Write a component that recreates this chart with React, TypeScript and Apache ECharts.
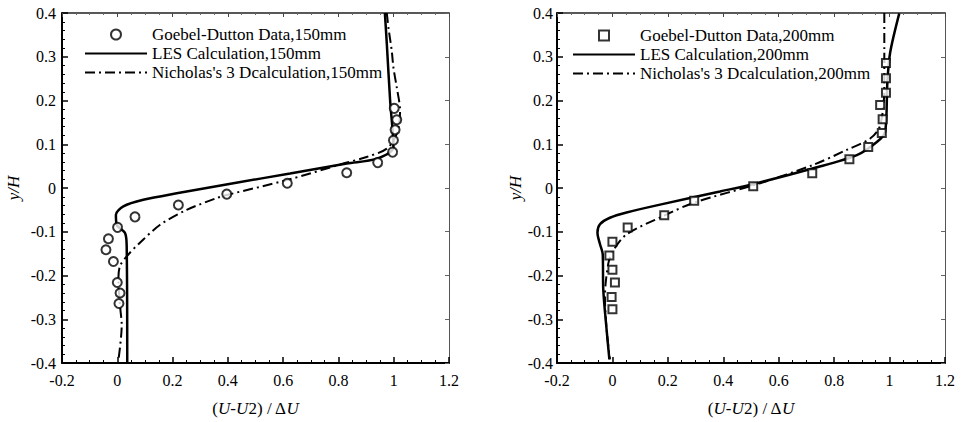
import React, { useEffect, useRef } from "react";
import * as echarts from "echarts";

// ---- 150 mm (left panel) ----
const dataX150 = [1.002, 1.011, 1.005, 0.999, 0.996, 0.942, 0.830, 0.615, 0.396, 0.221, 0.064, 0.001, -0.032, -0.041, -0.014, 0.0, 0.010, 0.006];
const dataY150 = [0.182, 0.156, 0.133, 0.109, 0.082, 0.058, 0.035, 0.011, -0.014, -0.039, -0.066, -0.090, -0.116, -0.141, -0.168, -0.216, -0.240, -0.264];

const lesX150 = [0.968, 0.975, 0.987, 0.999, 0.938, 0.830, 0.625, 0.420, 0.215, 0.094, 0.022, -0.005, -0.002, 0.028, 0.034, 0.036];
const lesY150 = [0.400, 0.330, 0.200, 0.094, 0.067, 0.056, 0.033, 0.011, -0.012, -0.027, -0.042, -0.061, -0.084, -0.103, -0.133, -0.400];

const nicX150 = [0.975, 0.981, 0.993, 0.999, 1.011, 1.023, 1.011, 0.975, 0.902, 0.818, 0.613, 0.396, 0.360, 0.251, 0.155, 0.082, 0.040, 0.010, 0.004, 0.010, 0.016, 0.004];
const nicY150 = [0.400, 0.366, 0.313, 0.275, 0.230, 0.177, 0.124, 0.090, 0.071, 0.056, 0.018, -0.016, -0.023, -0.050, -0.084, -0.125, -0.152, -0.178, -0.209, -0.269, -0.314, -0.394];

// ---- 200 mm (right panel) ----
const dataX200 = [0.987, 0.987, 0.987, 0.966, 0.975, 0.972, 0.923, 0.855, 0.721, 0.508, 0.295, 0.187, 0.055, 0.000, -0.011, 0.000, 0.009, -0.003, 0.000];
const dataY200 = [0.286, 0.251, 0.218, 0.190, 0.157, 0.126, 0.094, 0.066, 0.034, 0.004, -0.029, -0.062, -0.090, -0.123, -0.154, -0.187, -0.216, -0.249, -0.277];

const lesX200 = [1.035, 1.002, 0.992, 0.984, 0.954, 0.882, 0.725, 0.521, 0.388, 0.172, 0.051, -0.009, -0.045, -0.054, -0.045, -0.035, -0.033, -0.021, -0.011];
const lesY200 = [0.399, 0.309, 0.241, 0.128, 0.105, 0.075, 0.045, 0.011, -0.008, -0.038, -0.056, -0.068, -0.083, -0.102, -0.128, -0.151, -0.233, -0.324, -0.392];

const nicX200 = [0.981, 0.981, 0.981, 0.966, 0.930, 0.845, 0.725, 0.533, 0.292, 0.184, 0.051, 0.003, -0.015, -0.027, -0.021, -0.009];
const nicY200 = [0.400, 0.316, 0.230, 0.143, 0.113, 0.087, 0.053, 0.011, -0.034, -0.064, -0.106, -0.143, -0.173, -0.249, -0.324, -0.391];

const names150 = ["Goebel-Dutton Data,150mm", "LES Calculation,150mm", "Nicholas's 3 Dcalculation,150mm"];
const names200 = ["Goebel-Dutton Data,200mm", "LES Calculation,200mm", "Nicholas's 3 Dcalculation,200mm"];

const xTicks = { min: -0.2, max: 1.2, interval: 0.2 };
const yTicks = { min: -0.4, max: 0.4, interval: 0.1 };

const FONT = "'Liberation Serif', 'Times New Roman', serif";

const pairs = (xs: number[], ys: number[]) => xs.map((x, i) => [x, ys[i]]);

export default function App() {
  const ref = useRef<HTMLDivElement>(null);
  useEffect(() => {
    if (!ref.current) return;
    const chart = echarts.init(ref.current, undefined, { renderer: "svg" });

    const grids = [
      { left: 62, top: 13, width: 387, height: 353 },
      { left: 557, top: 13, width: 388, height: 354 },
    ];

    const xAxes: any[] = [];
    const yAxes: any[] = [];
    const yNameGaps = [40, 30];
    [0, 1].forEach((g) => {
      xAxes.push({
        type: "value",
        gridIndex: g,
        position: "bottom",
        ...xTicks,
        axisLine: { show: true, onZero: false, lineStyle: { color: "#000", width: 2 } },
        axisTick: { inside: true, length: 6, lineStyle: { color: "#000", width: 1.5 } },
        minorTick: { show: true, splitNumber: 4, length: 3, lineStyle: { color: "#000", width: 1 } },
        splitLine: { show: false },
        axisLabel: { fontFamily: FONT, fontSize: 16, color: "#000", margin: 9 },
        name: "{n|(}{i|U}{n|-}{i|U}{n|2) / Δ}{i|U}",
        nameLocation: "middle",
        nameGap: 37,
        nameTextStyle: {
          fontFamily: FONT,
          fontSize: 17,
          color: "#000",
          rich: {
            n: { fontFamily: FONT, fontSize: 17, color: "#000" },
            i: { fontFamily: FONT, fontSize: 17, color: "#000", fontStyle: "italic" },
          },
        },
      });
      xAxes.push({
        type: "value",
        gridIndex: g,
        position: "top",
        ...xTicks,
        axisLine: { show: true, onZero: false, lineStyle: { color: "#222", width: 1.5 } },
        axisTick: { inside: true, length: 4, lineStyle: { color: "#444" } },
        minorTick: { show: true, splitNumber: 4, length: 2, lineStyle: { color: "#666" } },
        splitLine: { show: false },
        axisLabel: { show: false },
      });
      yAxes.push({
        type: "value",
        gridIndex: g,
        position: "left",
        ...yTicks,
        axisLine: { show: true, onZero: false, lineStyle: { color: "#000", width: 2 } },
        axisTick: { inside: true, length: 6, lineStyle: { color: "#000", width: 1.5 } },
        minorTick: { show: true, splitNumber: 5, length: 3, lineStyle: { color: "#000", width: 1 } },
        splitLine: { show: false },
        axisLabel: { fontFamily: FONT, fontSize: 16, color: "#000", margin: g === 0 ? 6 : 4 },
        name: "y/H",
        nameLocation: "middle",
        nameGap: yNameGaps[g],
        nameRotate: 90,
        nameTextStyle: { fontFamily: FONT, fontSize: 17, color: "#000", fontStyle: "italic" },
      });
      yAxes.push({
        type: "value",
        gridIndex: g,
        position: "right",
        ...yTicks,
        axisLine: { show: true, onZero: false, lineStyle: { color: "#555", width: 1 } },
        axisTick: { inside: true, length: 4, lineStyle: { color: "#666" } },
        minorTick: { show: false },
        splitLine: { show: false },
        axisLabel: { show: false },
      });
    });

    const makeSeries = (g: number, names: string[], d: number[][], les: number[][], nic: number[][], symbol: string, size: number) => [
      {
        name: names[0],
        type: "scatter",
        xAxisIndex: g * 2,
        yAxisIndex: g * 2,
        data: d,
        symbol,
        symbolSize: size,
        itemStyle: { color: "#fff", borderColor: "#000", borderWidth: 2 },
        z: 5,
      },
      {
        name: names[1],
        type: "line",
        xAxisIndex: g * 2,
        yAxisIndex: g * 2,
        data: les,
        symbol: "none",
        smooth: 0.3,
        lineStyle: { color: "#000", width: 2.5 },
        itemStyle: { color: "#000" },
      },
      {
        name: names[2],
        type: "line",
        xAxisIndex: g * 2,
        yAxisIndex: g * 2,
        data: nic,
        symbol: "none",
        smooth: 0.3,
        lineStyle: { color: "#000", width: 2, type: [10, 4, 2, 4] },
        itemStyle: { color: "#000" },
      },
    ];

    const legendBase = {
      orient: "vertical",
      itemWidth: 62,
      itemHeight: 10,
      itemGap: 2,
      padding: 0,
      selectedMode: false,
      textStyle: { fontFamily: FONT, fontSize: 17, color: "#000" },
    };
    const legendData = (names: string[], markerIcon: string) => [
      { name: names[0], icon: markerIcon },
      { name: names[1], itemStyle: { opacity: 0 } },
      { name: names[2], itemStyle: { opacity: 0 } },
    ];

    chart.setOption({
      animation: false,
      backgroundColor: "#fff",
      grid: grids,
      xAxis: xAxes,
      yAxis: yAxes,
      legend: [
        { ...legendBase, data: legendData(names150, "circle"), left: 84, top: 26 },
        { ...legendBase, data: legendData(names200, "path://M0 0H10V10H0Z"), left: 572, top: 27 },
      ],
      series: [
        ...makeSeries(0, names150, pairs(dataX150, dataY150), pairs(lesX150, lesY150), pairs(nicX150, nicY150), "circle", 9),
        ...makeSeries(1, names200, pairs(dataX200, dataY200), pairs(lesX200, lesY200), pairs(nicX200, nicY200), "rect", 8),
      ],
    });
    return () => chart.dispose();
  }, []);
  return (
    <div
      ref={ref}
      style={{ position: "fixed", left: 0, top: 0, width: 963, height: 422, background: "#fff" }}
    />
  );
}
